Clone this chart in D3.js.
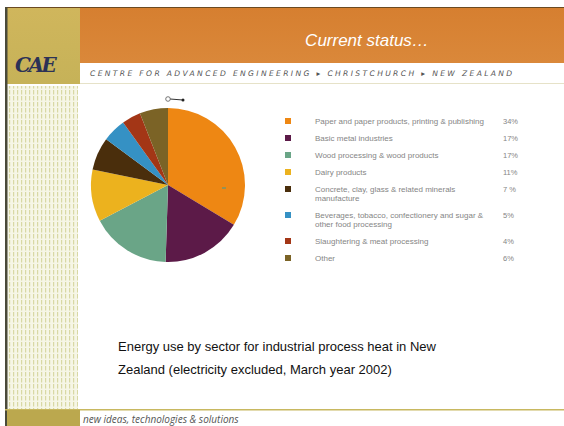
<!doctype html>
<head>
  <script src="https://cdn.jsdelivr.net/npm/d3@7"></script>
</head>
<style>
  body { margin: 0; background: #fff; }
  svg { display: block; font-family: 'Liberation Sans', Arial, sans-serif; }
</style>
<body>
<svg width="564" height="426"></svg>
<script>
// data
var categories = [
  ["Paper and paper products, printing & publishing"],
  ["Basic metal industries"],
  ["Wood processing & wood products"],
  ["Dairy products"],
  ["Concrete, clay, glass & related minerals", "manufacture"],
  ["Beverages, tobacco, confectionery and sugar &", "other food processing"],
  ["Slaughtering & meat processing"],
  ["Other"]
];
var values = [34, 17, 17, 11, 7, 5, 4, 6];
var pctLabels = ["34%", "17%", "17%", "11%", "7 %", "5%", "4%", "6%"];
var colors = ["#ee8713", "#5c1a48", "#6aa587", "#ecb21e", "#4a2e0c", "#3591c4", "#a33616", "#7b6326"];

var svg = d3.select("svg");
var defs = svg.append("defs");

// header frame
var hg = defs.append("linearGradient").attr("id", "hdr").attr("x1", 0).attr("x2", 0).attr("y1", 0).attr("y2", 1);
hg.append("stop").attr("offset", "0%").attr("stop-color", "#d67f30");
hg.append("stop").attr("offset", "100%").attr("stop-color", "#da883a");

var lg = defs.append("linearGradient").attr("id", "logo").attr("x1", 0).attr("x2", 0).attr("y1", 0).attr("y2", 1);
lg.append("stop").attr("offset", "0%").attr("stop-color", "#d0b65c");
lg.append("stop").attr("offset", "100%").attr("stop-color", "#c6b258");

var pat = defs.append("pattern").attr("id", "dots")
  .attr("patternUnits", "userSpaceOnUse").attr("width", 4).attr("height", 6);
pat.append("rect").attr("width", 4).attr("height", 6).attr("fill", "#f6f6e6");
pat.append("rect").attr("x", 1).attr("y", 0).attr("width", 1.2).attr("height", 4.5).attr("fill", "#d8d8a4");

svg.append("rect").attr("x", 5).attr("y", 7).attr("width", 559).attr("height", 1.5).attr("fill", "#6b4a22");
svg.append("rect").attr("x", 80).attr("y", 8).attr("width", 484).attr("height", 55).attr("fill", "url(#hdr)");
svg.append("rect").attr("x", 80).attr("y", 83).attr("width", 484).attr("height", 1).attr("fill", "#e6e2c8");
svg.append("rect").attr("x", 5).attr("y", 8).attr("width", 75).attr("height", 76).attr("fill", "url(#logo)");
svg.append("rect").attr("x", 7).attr("y", 86).attr("width", 71).attr("height", 324).attr("fill", "url(#dots)");
svg.append("rect").attr("x", 5).attr("y", 7).attr("width", 2.5).attr("height", 419).attr("fill", "#4a4a3a");

svg.append("text").attr("x", 15).attr("y", 72)
  .style("font-family", "'DejaVu Serif', serif")
  .style("font-weight", "bold").style("font-style", "italic")
  .style("font-size", "20px").style("letter-spacing", "-2.5px")
  .attr("fill", "#2c3256").text("CAE");

svg.append("text").attr("x", 367).attr("y", 46).attr("text-anchor", "middle")
  .style("font-style", "italic").style("font-size", "17px").attr("fill", "#fff")
  .text("Current status\u2026");

svg.append("text").attr("x", 90).attr("y", 76)
  .style("font-family", "'DejaVu Sans', sans-serif")
  .style("font-style", "italic").style("font-size", "7.6px").style("letter-spacing", "2.35px")
  .attr("fill", "#555").text("CENTRE FOR ADVANCED ENGINEERING \u25B8 CHRISTCHURCH \u25B8 NEW ZEALAND");

// footer
svg.append("rect").attr("x", 5).attr("y", 409).attr("width", 559).attr("height", 1.5).attr("fill", "#c8b860");
svg.append("rect").attr("x", 7).attr("y", 410).attr("width", 73).attr("height", 16).attr("fill", "#bba84e");
svg.append("text").attr("x", 83).attr("y", 423)
  .style("font-family", "'Open Sans', sans-serif")
  .style("font-style", "italic").style("font-size", "10px").attr("fill", "#555")
  .text("new ideas, technologies & solutions");

// pie
var cx = 168, cy = 185, r = 77;
var pie = d3.pie().sort(null).value(function(d){ return d; });
var arc = d3.arc().innerRadius(0).outerRadius(r);
var pg = svg.append("g").attr("transform", "translate(" + [cx, cy] + ")");
pg.selectAll("path").data(pie(values)).enter().append("path")
  .attr("d", arc)
  .attr("fill", function(d, i){ return colors[i]; });

// little handle above pie
svg.append("line").attr("x1", cx + 2).attr("y1", 99).attr("x2", cx + 15).attr("y2", 100)
  .attr("stroke", "#333").attr("stroke-width", 1);
svg.append("circle").attr("cx", cx).attr("cy", 99).attr("r", 2.3)
  .attr("fill", "#fff").attr("stroke", "#555").attr("stroke-width", 0.8);
svg.append("circle").attr("cx", cx + 15).attr("cy", 100).attr("r", 1.5).attr("fill", "#222");
svg.append("line").attr("x1", 222).attr("y1", 188).attr("x2", 226).attr("y2", 188)
  .attr("stroke", "#3a9a9a").attr("stroke-width", 1);

// legend
var rowY = [];
var yy = 121;
categories.forEach(function(c, i){
  rowY.push(yy);
  yy += c.length > 1 ? 26 : 17;
});
var leg = svg.append("g");
var rows = leg.selectAll("g").data(categories).enter().append("g")
  .attr("transform", function(d, i){ return "translate(0," + rowY[i] + ")"; });
rows.append("rect").attr("x", 285).attr("y", -3).attr("width", 6).attr("height", 6)
  .attr("fill", function(d, i){ return colors[i]; });
rows.append("text").attr("x", 315).attr("y", 2.5)
  .style("font-size", "8px").attr("fill", "#858585")
  .selectAll("tspan").data(function(d){ return d; }).enter().append("tspan")
  .attr("x", 315).attr("dy", function(d, j){ return j ? 9 : 0; })
  .text(function(d){ return d; });
rows.append("text").attr("x", 503).attr("y", 2.5)
  .style("font-size", "7.5px").attr("fill", "#858585")
  .text(function(d, i){ return pctLabels[i]; });

// caption
svg.append("text").attr("x", 118).attr("y", 351)
  .style("font-size", "13px").attr("fill", "#111")
  .text("Energy use by sector for industrial process heat in New");
svg.append("text").attr("x", 118).attr("y", 374)
  .style("font-size", "13px").attr("fill", "#111")
  .text("Zealand (electricity excluded, March year 2002)");
</script>
</body>
